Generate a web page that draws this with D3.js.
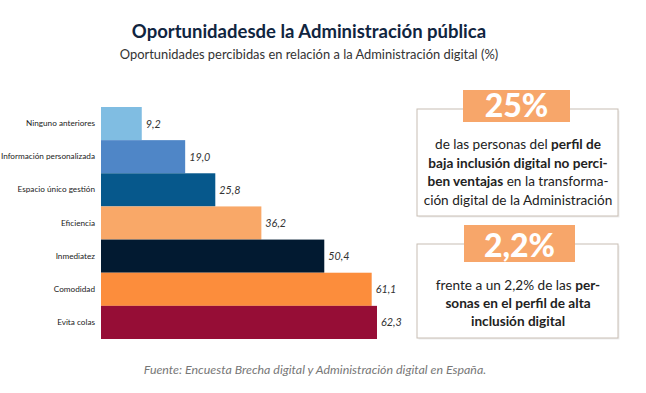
<!DOCTYPE html>
<html><head><meta charset="utf-8">
<script src="https://cdn.jsdelivr.net/npm/d3@7"></script>
<style>body{margin:0;background:#fff}svg{display:block}</style>
</head><body>
<svg id="c" width="646" height="393"></svg>
<script>
const categories = ["Ninguno anteriores","Información personalizada","Espacio único gestión","Eficiencia","Inmediatez","Comodidad","Evita colas"];
const values = [9.2, 19.0, 25.8, 36.2, 50.4, 61.1, 62.3];
const colors = ["#80bde2","#4f86c7","#06588c","#f9a868","#021a31","#fc8d3c","#960d36"];
const title = "Oportunidadesde la Administración pública";
const subtitle = "Oportunidades percibidas en relación a la Administración digital (%)";
const source = "Fuente: Encuesta Brecha digital y Administración digital en España.";

const svg = d3.select("#c");
const font = "Lato, 'Open Sans', sans-serif";

svg.append("text").attr("x",309).attr("y",38).attr("text-anchor","middle")
  .attr("font-family",font).attr("font-weight","bold").attr("font-size",18.5).attr("fill","#10253f").text(title);
svg.append("text").attr("x",309).attr("y",59).attr("text-anchor","middle")
  .attr("font-family",font).attr("font-size",12.9).attr("fill","#333").text(subtitle);

const x = d3.scaleLinear().domain([0, 62.3]).range([101, 377]);
const y = d3.scaleBand().domain(categories).range([107, 339]).padding(0);

const g = svg.append("g");
g.selectAll("rect.bar").data(values).join("rect").attr("class","bar")
  .attr("x", x(0)).attr("y",(d,i)=>y(categories[i]))
  .attr("width", d=>x(d)-x(0)).attr("height", y.bandwidth())
  .attr("fill",(d,i)=>colors[i]);

const fmt = d => d.toFixed(1).replace(".", ",");
g.selectAll("text.val").data(values).join("text").attr("class","val")
  .attr("x", d=>x(d)+4).attr("y",(d,i)=>y(categories[i])+y.bandwidth()/2+4)
  .attr("font-family",font).attr("font-style","italic").attr("font-size",10.8).attr("fill","#333")
  .text(fmt);

const yAxis = d3.axisLeft(y).tickSize(0).tickPadding(5);
const ax = svg.append("g").attr("transform",`translate(${x(0)-1},0)`).call(yAxis);
ax.select(".domain").remove();
ax.selectAll("text").attr("font-family",font).attr("font-size",8.2).attr("fill","#222");

// Right info boxes
function box(bx,by,bw,bh,lx,ly,lw,lh,big){
  svg.append("rect").attr("x",bx+1.5).attr("y",by+1.5).attr("width",bw).attr("height",bh).attr("fill","#eee");
  svg.append("rect").attr("x",bx).attr("y",by).attr("width",bw).attr("height",bh)
    .attr("fill","#fff").attr("stroke","#c8beb4").attr("stroke-width",1);
  svg.append("rect").attr("x",lx).attr("y",ly).attr("width",lw).attr("height",lh).attr("fill","#f7a66a");
  svg.append("text").attr("x",lx+lw/2).attr("y",ly+lh-5).attr("text-anchor","middle")
    .attr("font-family",font).attr("font-weight","900").attr("font-size",32).attr("fill","#fff").text(big);
}
function para(cx, y0, lh, lines){
  lines.forEach((ln,i)=>{
    const t = svg.append("text").attr("x",cx).attr("y",y0+i*lh).attr("text-anchor","middle")
      .attr("font-family",font).attr("font-size",13.6).attr("fill","#222");
    ln.forEach(([s,b])=>t.append("tspan").attr("font-weight",b?"bold":"normal").text(s));
  });
}
box(417,109,201,107,463,90,107,32,"25%");
para(518,149,18.7,[
  [["de las personas del ",0],["perfil de",1]],
  [["baja inclusión digital no perci-",1]],
  [["ben ventajas",1],[" en la transforma-",0]],
  [["ción digital de la Administración",0]]
]);
box(417,244,201,94,464,225,111,37,"2,2%");
para(518,290,18,[
  [["frente a un 2,2% de las ",0],["per-",1]],
  [["sonas en el perfil de alta",1]],
  [["inclusión digital",1]]
]);

svg.append("text").attr("x",315).attr("y",374).attr("text-anchor","middle")
  .attr("font-family",font).attr("font-style","italic").attr("font-size",12.4).attr("fill","#777").text(source);
</script>
</body></html>
